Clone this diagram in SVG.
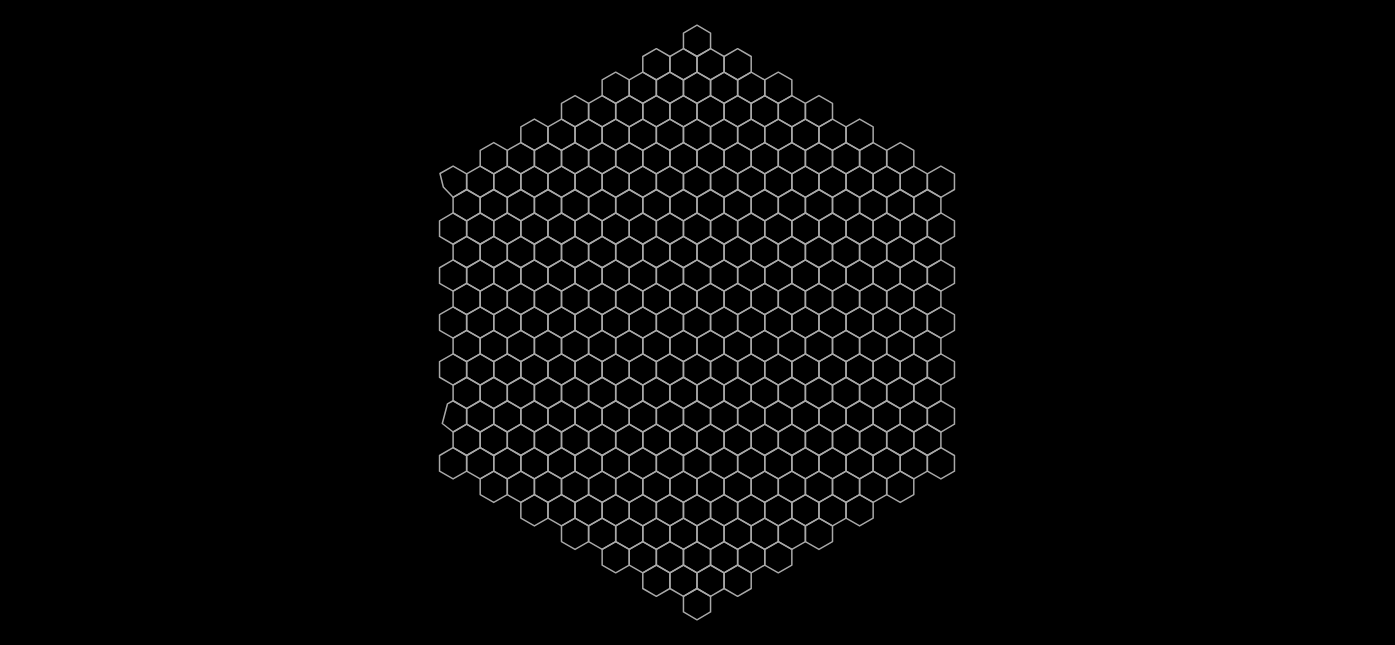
<svg xmlns="http://www.w3.org/2000/svg" xmlns:xlink="http://www.w3.org/1999/xlink" width="1395" height="645" viewBox="0 0 1395 645">
<style>
.hx{fill:none;stroke:#a8a8a8;stroke-width:1.5;stroke-linejoin:round}
</style>
<defs>
<polygon id="h" class="hx" points="0,-15.65 13.55,-7.83 13.55,7.83 0,15.65 -13.55,7.83 -13.55,-7.83"/>
<g id="r1"><use href="#h" x="697"/></g>
<g id="r4"><use href="#h" x="656.35"/><use href="#h" x="683.45"/><use href="#h" x="710.55"/><use href="#h" x="737.65"/></g>
<g id="r7"><use href="#h" x="615.7"/><use href="#h" x="642.8"/><use href="#h" x="669.9"/><use href="#h" x="697"/><use href="#h" x="724.1"/><use href="#h" x="751.2"/><use href="#h" x="778.3"/></g>
<g id="r10"><use href="#h" x="575.05"/><use href="#h" x="602.15"/><use href="#h" x="629.25"/><use href="#h" x="656.35"/><use href="#h" x="683.45"/><use href="#h" x="710.55"/><use href="#h" x="737.65"/><use href="#h" x="764.75"/><use href="#h" x="791.85"/><use href="#h" x="818.95"/></g>
<g id="r13"><use href="#h" x="534.4"/><use href="#h" x="561.5"/><use href="#h" x="588.6"/><use href="#h" x="615.7"/><use href="#h" x="642.8"/><use href="#h" x="669.9"/><use href="#h" x="697"/><use href="#h" x="724.1"/><use href="#h" x="751.2"/><use href="#h" x="778.3"/><use href="#h" x="805.4"/><use href="#h" x="832.5"/><use href="#h" x="859.6"/></g>
<g id="r16"><use href="#h" x="493.75"/><use href="#h" x="520.85"/><use href="#h" x="547.95"/><use href="#h" x="575.05"/><use href="#h" x="602.15"/><use href="#h" x="629.25"/><use href="#h" x="656.35"/><use href="#h" x="683.45"/><use href="#h" x="710.55"/><use href="#h" x="737.65"/><use href="#h" x="764.75"/><use href="#h" x="791.85"/><use href="#h" x="818.95"/><use href="#h" x="846.05"/><use href="#h" x="873.15"/><use href="#h" x="900.25"/></g>
<g id="rO"><use href="#h" x="466.65"/><use href="#h" x="493.75"/><use href="#h" x="520.85"/><use href="#h" x="547.95"/><use href="#h" x="575.05"/><use href="#h" x="602.15"/><use href="#h" x="629.25"/><use href="#h" x="656.35"/><use href="#h" x="683.45"/><use href="#h" x="710.55"/><use href="#h" x="737.65"/><use href="#h" x="764.75"/><use href="#h" x="791.85"/><use href="#h" x="818.95"/><use href="#h" x="846.05"/><use href="#h" x="873.15"/><use href="#h" x="900.25"/><use href="#h" x="927.35"/></g>
<g id="rE"><use href="#h" x="480.2"/><use href="#h" x="507.3"/><use href="#h" x="534.4"/><use href="#h" x="561.5"/><use href="#h" x="588.6"/><use href="#h" x="615.7"/><use href="#h" x="642.8"/><use href="#h" x="669.9"/><use href="#h" x="697"/><use href="#h" x="724.1"/><use href="#h" x="751.2"/><use href="#h" x="778.3"/><use href="#h" x="805.4"/><use href="#h" x="832.5"/><use href="#h" x="859.6"/><use href="#h" x="886.7"/><use href="#h" x="913.8"/><use href="#h" x="940.9"/></g>
</defs>
<rect width="1395" height="645" fill="#000"/>
<g id="hexgrid">
<use id="row-12" href="#r1" y="40.86"/>
<use id="row-11" href="#r4" y="64.33"/>
<use id="row-10" href="#r7" y="87.8"/>
<use id="row-9" href="#r10" y="111.27"/>
<use id="row-8" href="#r13" y="134.74"/>
<use id="row-7" href="#r16" y="158.21"/>
<g id="row-6"><use href="#rE" y="181.68"/><polygon class="hx" points="453.1,166.03 466.65,173.85 466.65,189.51 453.1,197.33 443.3,187 440,173.5"/></g>
<use id="row-5" href="#rO" y="205.15"/>
<g id="row-4"><use href="#rE" y="228.62"/><use href="#h" x="453.1" y="228.62"/></g>
<use id="row-3" href="#rO" y="252.09"/>
<g id="row-2"><use href="#rE" y="275.56"/><use href="#h" x="453.1" y="275.56"/></g>
<use id="row-1" href="#rO" y="299.03"/>
<g id="row0"><use href="#rE" y="322.5"/><use href="#h" x="453.1" y="322.5"/></g>
<use id="row1" href="#rO" y="345.97"/>
<g id="row2"><use href="#rE" y="369.44"/><use href="#h" x="453.1" y="369.44"/></g>
<use id="row3" href="#rO" y="392.91"/>
<g id="row4"><use href="#rE" y="416.38"/><polygon class="hx" points="453.1,400.73 466.65,408.55 466.65,424.21 453.1,432.03 442.3,423.5 447.5,403.8"/></g>
<use id="row5" href="#rO" y="439.85"/>
<g id="row6"><use href="#rE" y="463.32"/><use href="#h" x="453.1" y="463.32"/></g>
<use id="row7" href="#r16" y="486.79"/>
<use id="row8" href="#r13" y="510.26"/>
<use id="row9" href="#r10" y="533.73"/>
<use id="row10" href="#r7" y="557.2"/>
<use id="row11" href="#r4" y="580.67"/>
<use id="row12" href="#r1" y="604.14"/>
</g>
</svg>
